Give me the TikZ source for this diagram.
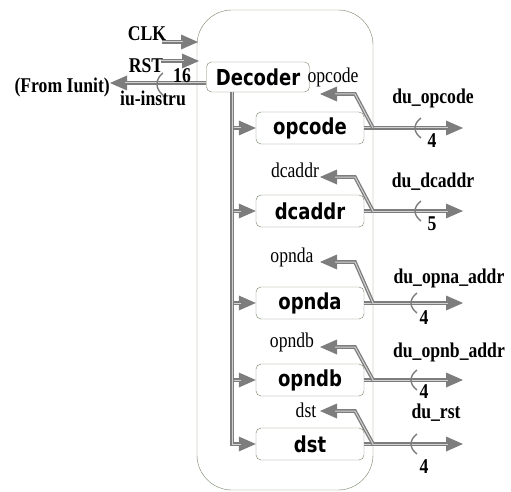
\documentclass[tikz,border=0pt]{standalone}
\usepackage{fontspec}
\setmainfont{Liberation Serif}[FakeStretch=0.84]
\newfontfamily\boxfont{DejaVu Sans}[FakeStretch=0.82]
\usetikzlibrary{arrows.meta,positioning,calc}
\definecolor{frameol}{RGB}{118,132,104}
\definecolor{busgray}{RGB}{125,125,125}
\definecolor{businner}{RGB}{210,210,210}
\tikzset{
  unit/.style={draw=frameol, rounded corners=5pt, fill=white, minimum width=108pt, minimum height=32pt, inner sep=0pt, font=\boxfont\bfseries\fontsize{22}{22}\selectfont},
  bus/.style={draw=busgray, line width=3.6pt, -{Triangle[length=17pt,width=15pt,line width=0pt]},
              postaction={draw=businner, line width=1pt, -, shorten >=15pt}},
  sig/.style={inner sep=0pt, font=\bfseries\fontsize{21}{21}\selectfont},
  fb/.style={inner sep=0pt, font=\fontsize{21}{21}\selectfont},
  slash/.style={draw=busgray, line width=1.4pt},
}
\begin{document}
\begin{tikzpicture}[x=1pt,y=-1pt]
    \useasboundingbox (0,0) rectangle (511,492);
    % decoder unit frame
    \node[draw=frameol, rounded corners=35pt, minimum width=176pt, minimum height=480pt] (frame) at (285,250) {};

    \node[unit, minimum width=103pt, minimum height=30pt] (dec) at (258,77) {Decoder};
    \coordinate (tk) at (232,92);

    % sub-decoders, buses and feedback arrows
    \foreach \nm/\yc/\yf in {opcode/128/94, dcaddr/211/177, opnda/303/262, opndb/380/347, dst/444/411} {
        \node[unit] (\nm) at (310,\yc) {\nm};
        \coordinate (j\nm) at (373,\yc);
        \coordinate (k\nm) at (355,\yf);
        \coordinate (f\nm) at (320,\yf);
        \coordinate (o\nm) at (463,\yc);
        \draw[bus] (\nm.east) -- (o\nm);
        \draw[bus] (j\nm) -- (k\nm) -- (f\nm);
    }
    \foreach \nm in {opcode, dcaddr, opnda, opndb}
        \draw[bus] (tk |- \nm.west) -- (\nm.west);
    \draw[bus] (tk) |- (dst.west);

    % bus width marks
    \foreach \nm/\sx in {opcode/418, dcaddr/418, opnda/414, opndb/414, dst/414}
        \draw[slash] ($(\sx,0 |- o\nm) + (3,-10)$) .. controls ($(\sx,0 |- o\nm) + (-5,-4)$) and ($(\sx,0 |- o\nm) + (-5,4)$) .. ($(\sx,0 |- o\nm) + (3,10)$);

    % inputs
    \node[sig] (clk) at (147,34) {CLK};
    \node[sig] (rst) at (146,66) {RST};
    \coordinate (clkin) at (198,42);
    \coordinate (rstin) at (199,61);
    \draw[bus] ([xshift=-4pt]clkin -| clk.east) -- (clkin);
    \draw[bus] ([xshift=-2pt]rstin -| rst.east) -- (rstin);

    \node[sig, anchor=east] (iunit) at (110,87) {(From Iunit)};
    \draw[bus] ([yshift=-6pt]dec.west) -- ([yshift=-6pt]dec.west -| iunit.east);
    \draw[slash] (163,73) .. controls (155,79) and (155,89) .. (163,95);
    \node[sig] (w16) at (182,76) {16};
    \node[sig] (iuin) at (153,98) {iu-instru};

    % feedback labels
    \node[fb] (lopcode) at (333,77) {opcode};
    \node[fb] (ldcaddr) at (295,170) {dcaddr};
    \node[fb] (lopnda) at (292,257) {opnda};
    \node[fb] (lopndb) at (292,342) {opndb};
    \node[fb] (ldst) at (306,410) {dst};

    % output labels
    \node[sig] (du1) at (433,98) {du\_opcode};
    \node[sig] (du2) at (433,182) {du\_dcaddr};
    \node[sig] (du3) at (449,278) {du\_opna\_addr};
    \node[sig] (du4) at (449,352) {du\_opnb\_addr};
    \node[sig] (du5) at (436,413) {du\_rst};
    \node[sig] (w1) at (432,141) {4};
    \node[sig] (w2) at (432,224) {5};
    \node[sig] (w3) at (424,318) {4};
    \node[sig] (w4) at (424,392) {4};
    \node[sig] (w5) at (424,467) {4};
\end{tikzpicture}
\end{document}
